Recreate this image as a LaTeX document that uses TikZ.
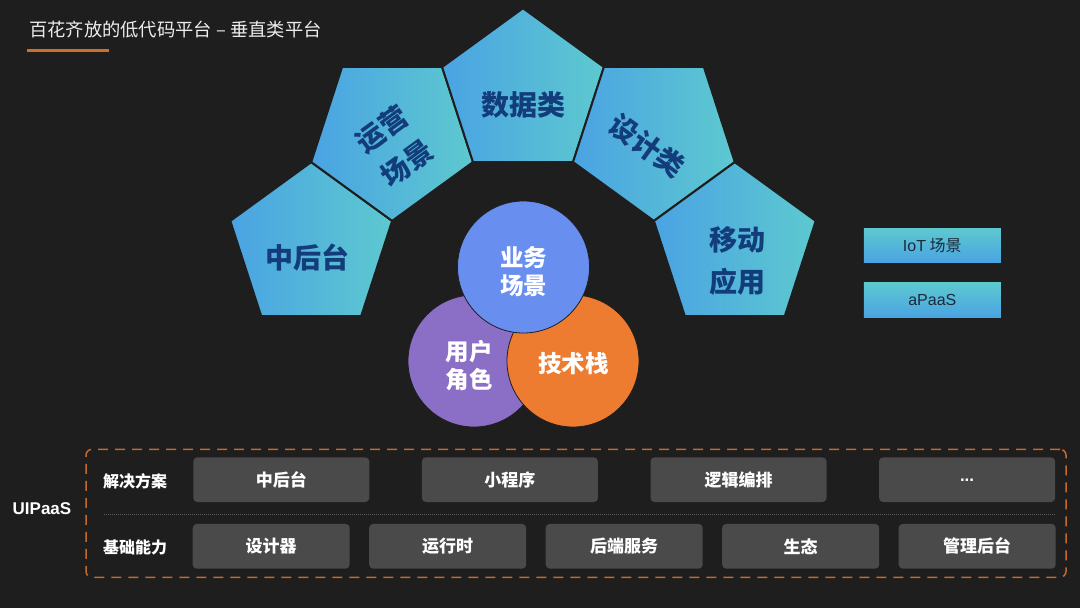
\documentclass[tikz,border=0pt]{standalone}
\usepackage{fontspec}
\setmainfont{Noto Sans CJK SC}
\newfontfamily\lat{Liberation Sans}
\usetikzlibrary{shapes.geometric}
\definecolor{bg}{HTML}{1E1E1E}
\definecolor{pblue}{HTML}{4AA3E3}
\definecolor{pteal}{HTML}{5DC9CF}
\definecolor{navy}{HTML}{133D7A}
\definecolor{cblue}{HTML}{688EF0}
\definecolor{cpurple}{HTML}{8B6EC6}
\definecolor{corange}{HTML}{EE7C30}
\definecolor{boxgray}{HTML}{4A4A4A}
\definecolor{dashorange}{HTML}{C46A2C}
\definecolor{uline}{HTML}{CF6E2B}
\definecolor{titlecol}{HTML}{ECECEC}
\definecolor{darktext}{HTML}{1B2A3A}
\definecolor{sepcol}{HTML}{5A5A5A}
\tikzset{
  pent/.style={regular polygon, regular polygon sides=5, minimum size=170.14pt, inner sep=0pt,
    draw=bg, line width=2pt, left color=pblue, right color=pteal},
  ptext/.style={text=navy, font=\fontsize{28pt}{42pt}\selectfont\bfseries, align=center, inner sep=0pt},
  circ/.style={circle, inner sep=0pt, minimum size=132pt, draw=bg, line width=0.8pt},
  ctext/.style={text=white, font=\fontsize{23.5pt}{28pt}\selectfont\bfseries, align=center, inner sep=0pt},
  rbox/.style={minimum width=137pt, minimum height=34.5pt, inner sep=0pt, top color=pteal, bottom color=pblue,
    text=darktext, font=\fontsize{16pt}{18pt}\selectfont},
  topbox/.style={rounded corners=4pt, fill=boxgray, minimum width=176pt, minimum height=44.7pt, inner sep=0pt,
    text=white, font=\fontsize{17pt}{20pt}\selectfont\bfseries},
  botbox/.style={topbox, minimum width=157pt},
  rowlabel/.style={text=white, font=\fontsize{16pt}{18pt}\selectfont\bfseries, inner sep=0pt},
}
\begin{document}
\begin{tikzpicture}[x=1pt,y=-1pt]
\fill[bg] (0,0) rectangle (1080,608);
\useasboundingbox (0,0) rectangle (1080,608);
% title
\node[anchor=west, inner sep=0pt, text=titlecol, font=\fontsize{18.3pt}{20pt}\selectfont] (title) at (29,30) {百花齐放的低代码平台\ – 垂直类平台};
\coordinate (ul1) at (27,50.7);
\coordinate (ul2) at (109,50.7);
\draw[uline, line width=2.5pt] (ul1) -- (ul2);
% pentagons
\node[pent] (p1) at (311.2,247.2) {};
\node[pent, rotate=36] (p2) at (392.1,135.8) {};
\node[pent] (p3) at (523,93.3) {};
\node[pent, rotate=-36] (p4) at (653.9,135.8) {};
\node[pent] (p5) at (734.8,247.2) {};
\node[ptext] (t1) at (307,258) {中后台};
\node[ptext, rotate=36] (t2) at (394.5,146.3) {运营\\场景};
\node[ptext] (t3) at (523,105) {数据类};
\node[ptext, rotate=-36] (t4) at (647,146) {设计类};
\node[ptext] (t5) at (737,261) {移动\\应用};
% circles
\node[circ, fill=cpurple] (c2) at (474,361) {};
\node[circ, fill=corange] (c3) at (573,361) {};
\node[circ, fill=cblue] (c1) at (523.5,267) {};
\node[ctext] (ct1) at (523.5,271.6) {业务\\场景};
\node[ctext] (ct2) at (469,366) {用户\\角色};
\node[ctext] (ct3) at (573.3,363.3) {技术栈};
% right boxes
\node[rbox] (iot) at (932.3,245.5) {{\lat IoT} 场景};
\node[rbox] (apaas) at (932.3,300) {\lat aPaaS};
% bottom panel
\node[draw=dashorange, line width=1.5pt, dash pattern=on 10pt off 7pt, rounded corners=6pt,
  minimum width=980pt, minimum height=128pt, inner sep=0pt] (panel) at (576,513.3) {};
\coordinate (s1) at (104,514);
\coordinate (s2) at (1055,514);
\draw[sepcol, line width=0.8pt, dash pattern=on 1pt off 1pt] (s1) -- (s2);
\node[text=white, font=\lat\fontsize{17pt}{20pt}\selectfont\bfseries, inner sep=0pt] (uip) at (42,509) {UIPaaS};
\node[rowlabel] (l1) at (135,481.7) {解决方案};
\node[rowlabel] (l2) at (135,547.3) {基础能力};
\node[topbox] (a1) at (281.3,479.7) {中后台};
\node[topbox] (a2) at (509.9,479.7) {小程序};
\node[topbox] (a3) at (738.5,479.7) {逻辑编排};
\node[topbox] (a4) at (967.1,479.7) {\raisebox{-3pt}{\lat\bfseries\fontsize{17pt}{18pt}\selectfont ...}};
\node[botbox] (b1) at (271.2,546.3) {设计器};
\node[botbox] (b2) at (447.7,546.3) {运行时};
\node[botbox] (b3) at (624.2,546.3) {后端服务};
\node[botbox] (b4) at (800.7,546.3) {生态};
\node[botbox] (b5) at (977.2,546.3) {管理后台};
\end{tikzpicture}
\end{document}
